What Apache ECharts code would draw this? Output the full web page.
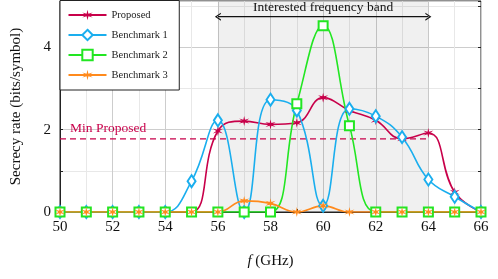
<!DOCTYPE html>
<html><head><meta charset="utf-8">
<script src="https://cdn.jsdelivr.net/npm/echarts@6/dist/echarts.min.js"></script>
<style>html,body{margin:0;padding:0;background:#fff}#c{width:498px;height:279px}</style>
</head><body><div id="c"></div>
<script>
// ---- data ----
const freqs = [50,51,52,53,54,55,56,57,58,59,60,61,62,63,64,65,66];
const proposed   = [0,0,0,0,0,0,1.97,2.21,2.13,2.17,2.78,2.47,2.23,1.78,1.92,0.48,0];
const benchmark1 = [0,0,0,0,0,0.75,2.23,0,2.73,2.47,0.15,2.51,2.33,1.82,0.79,0.37,0];
const benchmark2 = [0,0,0,0,0,0,0,0,0,2.63,4.53,2.1,0,0,0,0,0];
const benchmark3 = [0,0,0,0,0,0,0,0.27,0.21,0,0.15,0,0,0,0,0,0];
const seriesNames = ['Proposed','Benchmark 1','Benchmark 2','Benchmark 3'];
const xTickLabels = ['50','52','54','56','58','60','62','64','66'];
const yTickLabels = ['0','2','4'];
const bandRange = [56, 64];
const bandArrowLevel = 4.75;
const bandLabel = 'Interested frequency band';
const minLabel = 'Min Proposed';

// min of proposed inside the band
const minProposed = Math.min(...freqs.map((f,i)=> (f>=bandRange[0] && f<=bandRange[1]) ? proposed[i] : Infinity));

const serif = "'Liberation Serif','Times New Roman',serif";
const C = {p:'#c8004a', b1:'#1aaeee', b2:'#22e622', b3:'#ff8a1c'};
const starPath = 'path://M10,0 L11.5,7.4 L18.66,5 L13,10 L18.66,15 L11.5,12.6 L10,20 L8.5,12.6 L1.34,15 L7,10 L1.34,5 L8.5,7.4 Z';
const chevron = 'path://M0,10 L5,0 L10,10 L8.4,10 L5,3.2 L1.6,10 Z';
const pairs = arr => freqs.map((f,i)=>[f, arr[i]]);
const bandMid = (bandRange[0] + bandRange[1]) / 2;

const chart = echarts.init(document.getElementById('c'), null, {renderer:'canvas'});
chart.setOption({
  animation:false,
  backgroundColor:'#fff',
  grid:{left:60, right:17, top:1, bottom:67, show:true, borderColor:'#222', borderWidth:1, backgroundColor:'transparent'},
  legend:{
    left:60, top:0.5, orient:'vertical', padding:[6.5,11.5,7,7.5], itemGap:4, itemWidth:38, itemHeight:13,
    backgroundColor:'#fff', borderColor:'#222', borderWidth:1,
    textStyle:{fontFamily:serif, fontSize:10.5, color:'#222', lineHeight:16, height:16},
    data:seriesNames
  },
  xAxis:{
    type:'value', min:50, max:66, interval:1,
    name:'{i|f} (GHz)', nameLocation:'middle', nameGap:42,
    nameTextStyle:{fontFamily:serif, fontSize:15, color:'#111', rich:{i:{fontFamily:serif, fontStyle:'italic', fontSize:15, color:'#111'}}},
    axisLine:{show:true, lineStyle:{color:'#222', width:1}},
    axisTick:{show:true, inside:true, length:3, lineStyle:{color:'#222'}},
    axisLabel:{fontFamily:serif, fontSize:15, color:'#111', margin:8,
      formatter: v => xTickLabels.indexOf(String(v))>=0 ? String(v) : ''},
    splitLine:{show:true, lineStyle:{color:['#cdcdcd','#e8e8e8'], width:1}}
  },
  yAxis:[{
    type:'value', min:0, max:5.13, interval:1,
    name:'Secrecy rate (bits/symbol)', nameLocation:'middle', nameGap:36,
    nameTextStyle:{fontFamily:serif, fontSize:15, color:'#111'},
    axisLine:{show:true, lineStyle:{color:'#222', width:1}},
    axisTick:{show:true, inside:true, length:3, lineStyle:{color:'#222'}},
    axisLabel:{fontFamily:serif, fontSize:15, color:'#111', margin:9, showMaxLabel:false,
      formatter: v => yTickLabels.indexOf(String(v))>=0 ? String(v) : ''},
    splitLine:{show:true, lineStyle:{color:['#cdcdcd','#e8e8e8'], width:1}}
  },{
    type:'value', min:0, max:5.13, interval:1, position:'right',
    axisLine:{show:false}, axisLabel:{show:false}, splitLine:{show:false},
    axisTick:{show:true, inside:true, length:3, lineStyle:{color:'#222'}}
  }],
  series:[
    {
      name:'band', type:'line', data:[], silent:true,
      markArea:{silent:true, itemStyle:{color:'rgba(0,0,0,0.06)'},
        data:[[{xAxis:bandRange[0]},{xAxis:bandRange[1]}]]}
    },
    {
      name:'minLine', type:'line', silent:true, z:1,
      data:[
        {value:[50, minProposed], symbol:'circle', symbolSize:0,
         label:{show:true, position:[10,-17.5], align:'left', formatter:minLabel, color:C.p, fontFamily:serif, fontSize:13.5}},
        {value:[bandRange[1], minProposed], symbol:'circle', symbolSize:0}
      ],
      lineStyle:{color:C.p, type:[6,4], width:1.2}, itemStyle:{color:C.p}
    },
    {
      name:'bandArrow', type:'line', silent:true, z:1,
      data:[
        {value:[bandRange[0], bandArrowLevel], symbol:chevron, symbolSize:[8,6], symbolRotate:90},
        {value:[bandMid, bandArrowLevel], symbol:'circle', symbolSize:0,
         label:{show:true, position:'top', distance:2, formatter:bandLabel, color:'#111', fontFamily:serif, fontSize:13.5}},
        {value:[bandRange[1], bandArrowLevel], symbol:chevron, symbolSize:[8,6], symbolRotate:-90}
      ],
      lineStyle:{color:'#111', type:'solid', width:1.3}, itemStyle:{color:'#111'}
    },
    {
      name:seriesNames[0], type:'line', smooth:0.45, data:pairs(proposed), clip:true,
      symbol:starPath, symbolSize:10, color:C.p,
      itemStyle:{color:C.p}, lineStyle:{color:C.p, width:1.6}
    },
    {
      name:seriesNames[1], type:'line', smooth:0.45, data:pairs(benchmark1), clip:true,
      symbol:'emptyDiamond', symbolSize:[8,12], color:C.b1,
      itemStyle:{color:C.b1, borderColor:C.b1, borderWidth:1.5}, lineStyle:{color:C.b1, width:1.6}
    },
    {
      name:seriesNames[2], type:'line', smooth:0.45, data:pairs(benchmark2), clip:true,
      symbol:'emptyRect', symbolSize:9, color:C.b2,
      itemStyle:{color:C.b2, borderColor:C.b2, borderWidth:1.5}, lineStyle:{color:C.b2, width:1.6}
    },
    {
      name:seriesNames[3], type:'line', smooth:0.45, data:pairs(benchmark3), clip:true,
      symbol:starPath, symbolSize:10, color:C.b3,
      itemStyle:{color:C.b3}, lineStyle:{color:C.b3, width:1.6}
    }
  ]
});
</script></body></html>
